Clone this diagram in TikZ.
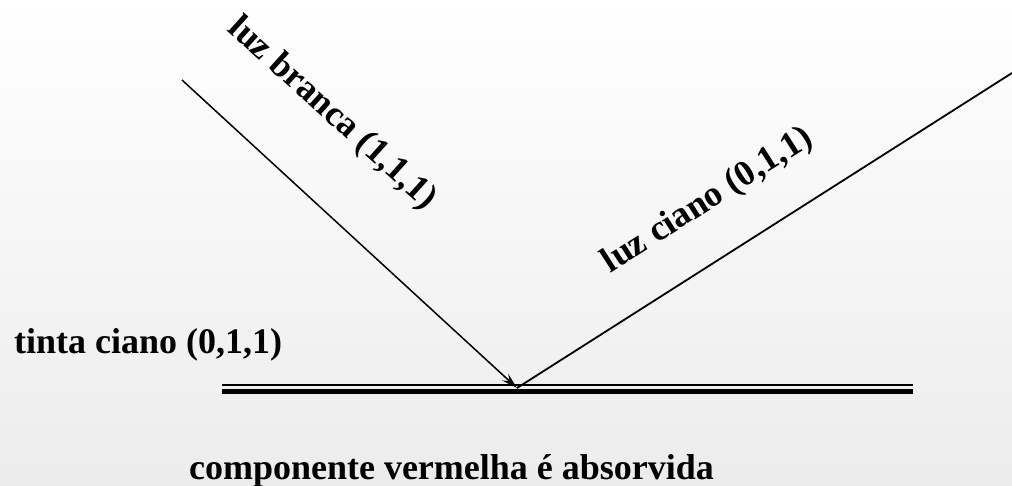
\documentclass[tikz,border=0pt]{standalone}
\usepackage{fontspec}
\setmainfont{Liberation Serif}
\usetikzlibrary{arrows.meta}

\begin{document}
\begin{tikzpicture}[x=1pt, y=-1pt, every node/.style={font=\fontsize{36}{40}\selectfont\bfseries, inner sep=0pt}]
  % White light hitting cyan ink, cyan light leaving it.
  \path[use as bounding box, top color=white, bottom color=gray!15] (0,0) rectangle (1012,485);
  \coordinate (src) at (182,80);
  \coordinate (hit) at (517,388);
  \coordinate (away) at (1012,73);
  \coordinate (inkL) at (222,385);
  \coordinate (inkR) at (913,385);
  % ink surface, thin over thick
  \draw[line width=1.3pt] (inkL) -- (inkR);
  \draw[line width=5.3pt] ([yshift=-6.3pt]inkL) -- ([yshift=-6.3pt]inkR);
  % incoming and reflected rays
  \draw[line width=1.5pt, -{Stealth[length=16pt,width=9pt,inset=6pt]}] (src) -- (hit);
  \draw[line width=1.8pt] (hit) -- (away);
  \node[rotate=-42] (white) at (332,114) {luz branca (1,1,1)};
  \node[rotate=32.5] (cyan) at (708,201) {luz ciano (0,1,1)};
  \node[anchor=base west] (ink) at (14,353) {tinta ciano (0,1,1)};
  \node[anchor=base] (absorb) at (451.5,479) {componente vermelha é absorvida};
\end{tikzpicture}
\end{document}
